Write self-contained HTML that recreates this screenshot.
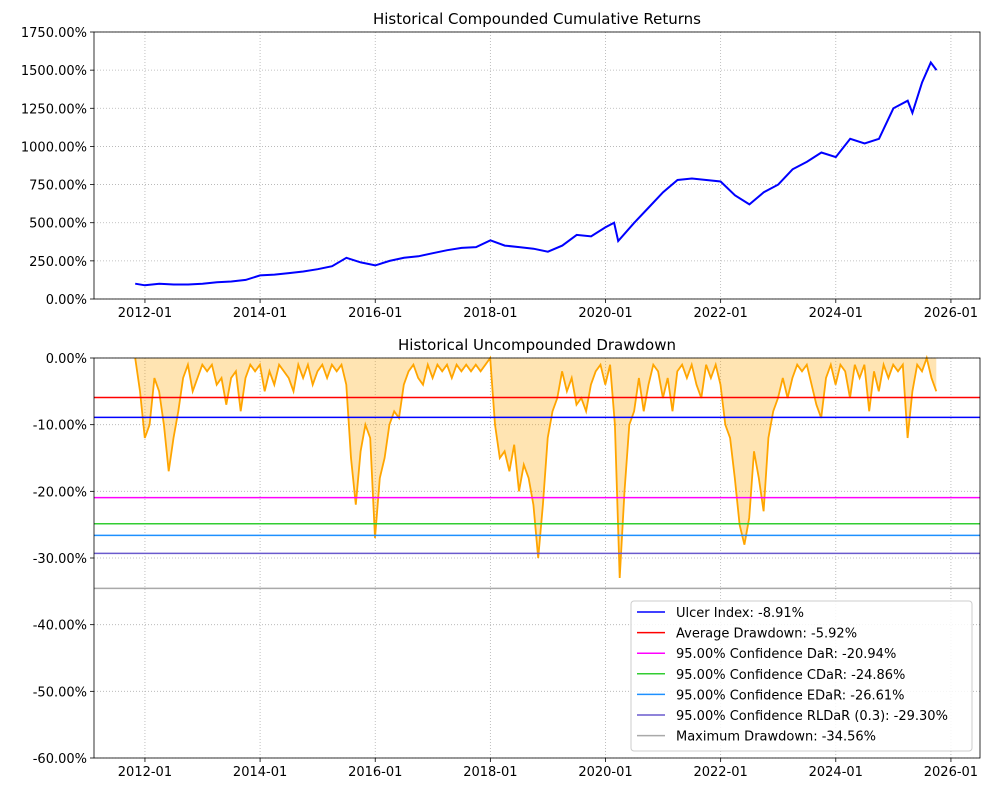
<!DOCTYPE html>
<html><head><meta charset="utf-8"><style>
body{margin:0;background:#fff;font-family:"DejaVu Sans","Liberation Sans",sans-serif;}
svg text{font-family:"DejaVu Sans","Liberation Sans",sans-serif;fill:#000}
</style></head><body>
<svg id="chart" width="999" height="797" viewBox="0 0 999 797" xmlns="http://www.w3.org/2000/svg"></svg>
<script>
// ---- data ----
const xTickLabels = ["2012-01","2014-01","2016-01","2018-01","2020-01","2022-01","2024-01","2026-01"];
const xTickYears = [2012,2014,2016,2018,2020,2022,2024,2026];
const cumDates = [2011.83,2012.0,2012.25,2012.5,2012.75,2013.0,2013.25,2013.5,2013.75,2014.0,2014.25,2014.5,2014.75,2015.0,2015.25,2015.5,2015.75,2016.0,2016.25,2016.5,2016.75,2017.0,2017.25,2017.5,2017.75,2018.0,2018.25,2018.5,2018.75,2019.0,2019.25,2019.5,2019.75,2020.0,2020.15,2020.22,2020.5,2020.75,2021.0,2021.25,2021.5,2021.75,2022.0,2022.25,2022.5,2022.75,2023.0,2023.25,2023.5,2023.75,2024.0,2024.25,2024.5,2024.75,2025.0,2025.25,2025.33,2025.5,2025.65,2025.75];
const cumValues = [100,90,100,95,95,100,110,115,125,155,160,170,180,195,215,270,240,220,250,270,280,300,320,335,340,385,350,340,330,310,350,420,410,470,500,380,500,600,700,780,790,780,770,680,620,700,750,850,900,960,930,1050,1020,1050,1250,1300,1220,1420,1550,1500];
const cumTicks = [0,250,500,750,1000,1250,1500,1750];
const ddStart = 2011.83; // monthly series
const ddValues = [
 0,-5,
 -12,-10,-3,-5,-10,-17,-12,-8,-3,-1,-5,-3,
 -1,-2,-1,-4,-3,-7,-3,-2,-8,-3,-1,-2,
 -1,-5,-2,-4,-1,-2,-3,-5,-1,-3,-1,-4,
 -2,-1,-3,-1,-2,-1,-4,-15,-22,-14,-10,-12,
 -27,-18,-15,-10,-8,-9,-4,-2,-1,-3,-4,-1,
 -3,-1,-2,-1,-3,-1,-2,-1,-2,-1,-2,-1,
 0,-10,-15,-14,-17,-13,-20,-16,-18,-22,-30,-22,
 -12,-8,-6,-2,-5,-3,-7,-6,-8,-4,-2,-1,
 -4,-1,-10,-33,-20,-10,-8,-3,-8,-4,-1,-2,
 -6,-3,-8,-2,-1,-3,-1,-4,-6,-1,-3,-1,
 -4,-10,-12,-18,-25,-28,-24,-14,-18,-23,-12,-8,
 -6,-3,-6,-3,-1,-2,-1,-4,-7,-9,-3,-1,
 -4,-1,-2,-6,-1,-3,-1,-8,-2,-5,-1,-3,
 -1,-2,-1,-12,-5,-1,-2,0,-3,-5
];
const ddTicks = [0,-10,-20,-30,-40,-50,-60];
const riskNames = ["Ulcer Index: -8.91%","Average Drawdown: -5.92%","95.00% Confidence DaR: -20.94%","95.00% Confidence CDaR: -24.86%","95.00% Confidence EDaR: -26.61%","95.00% Confidence RLDaR (0.3): -29.30%","Maximum Drawdown: -34.56%"];
const riskValues = [-8.91,-5.92,-20.94,-24.86,-26.61,-29.30,-34.56];
const riskColors = ["#0000ff","#ff0000","#ff00ff","#32cd32","#1e90ff","#6a5acd","#a9a9a9"];

// ---- layout ----
const svg=document.getElementById('chart');
const NS="http://www.w3.org/2000/svg";
const L=94,R=980;
const x=t=>L+(t-2011.115)/(2026.505-2011.115)*(R-L);
const T1=32,B1=299, T2=358,B2=758;
const y1=v=>B1-v/1750*(B1-T1);
const y2=v=>T2+(-v)/60*(B2-T2);
function el(tag,attrs,parent){const e=document.createElementNS(NS,tag);for(const k in attrs)e.setAttribute(k,attrs[k]);(parent||svg).appendChild(e);return e;}
function txt(s,attrs,parent){const e=el('text',attrs,parent);e.textContent=s;return e;}

function axes(T,B,yf,ticks,fmt,title,name){
  const g=el('g',{});
  
  
  // grid
  xTickYears.forEach((yr,i)=>{
    const X=x(yr);
    el('line',{x1:X,x2:X,y1:T,y2:B,stroke:'#b0b0b0','stroke-width':0.8,'stroke-dasharray':'1,2'},g);
    el('line',{x1:X,x2:X,y1:B,y2:B+4,stroke:'#000','stroke-width':0.8},g);
    const t=txt(xTickLabels[i],{x:X,y:B+18,'font-size':13,'text-anchor':'middle'},g);
    
    
  });
  ticks.forEach(v=>{
    const Y=yf(v);
    el('line',{x1:L,x2:R,y1:Y,y2:Y,stroke:'#b0b0b0','stroke-width':0.8,'stroke-dasharray':'1,2'},g);
    el('line',{x1:L-4,x2:L,y1:Y,y2:Y,stroke:'#000','stroke-width':0.8},g);
    const t=txt(fmt(v),{x:L-7,y:Y+5,'font-size':13,'text-anchor':'end'},g);
    
    
  });
  const tt=txt(title,{x:(L+R)/2,y:T-8,'font-size':15,'text-anchor':'middle'},g);
  
  
  return g;
}
function frame(T,B){
  const f=el('rect',{x:L,y:T,width:R-L,height:B-T,fill:'none',stroke:'#000','stroke-width':0.8});
  
  
}

// top chart
axes(T1,B1,y1,cumTicks,v=>v.toFixed(2)+'%','Historical Compounded Cumulative Returns','returns-axes');
const cp=el('polyline',{points:cumDates.map((d,i)=>x(d).toFixed(1)+','+y1(cumValues[i]).toFixed(1)).join(' '),fill:'none',stroke:'#0000ff','stroke-width':2});


frame(T1,B1);

// bottom chart
axes(T2,B2,y2,ddTicks,v=>v.toFixed(2)+'%','Historical Uncompounded Drawdown','drawdown-axes');
const ddPts=ddValues.map((v,i)=>x(ddStart+i/12).toFixed(1)+','+y2(v).toFixed(1));
const area=el('polygon',{points:x(ddStart).toFixed(1)+','+y2(0)+' '+ddPts.join(' ')+' '+x(ddStart+(ddValues.length-1)/12).toFixed(1)+','+y2(0),fill:'#ffa500','fill-opacity':0.3,stroke:'none'});


const dl=el('polyline',{points:ddPts.join(' '),fill:'none',stroke:'#ffa500','stroke-width':1.8});


riskValues.forEach((v,i)=>{
  const ln=el('line',{x1:L,x2:R,y1:y2(v),y2:y2(v),stroke:riskColors[i],'stroke-width':1.5});
  
  
});
frame(T2,B2);

// legend
const lg=el('g',{});


el('rect',{x:631,y:601,width:341,height:150,rx:3,fill:'#fff','fill-opacity':0.85,stroke:'#ccc'},lg);
riskNames.forEach((n,i)=>{
  const Y=612+i*20.6;
  const e=el('g',{},lg);
  
  
  el('line',{x1:637,x2:665,y1:Y,y2:Y,stroke:riskColors[i],'stroke-width':1.5},e);
  txt(n,{x:676,y:Y+5,'font-size':13},e);
});
</script>
</body></html>
